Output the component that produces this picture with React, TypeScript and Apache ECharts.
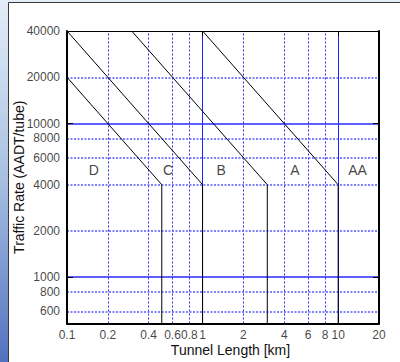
import React, { useEffect, useRef } from "react";
import * as echarts from "echarts";

// Axis ranges
const xMin = 0.1;
const xMax = 20;
const yMin = 500;
const yMax = 40000;

// Tick labels
const xTickValues = [0.1, 0.2, 0.4, 0.6, 0.8, 1, 2, 4, 6, 8, 10, 20];
const yTickValues = [600, 800, 1000, 2000, 4000, 6000, 8000, 10000, 20000, 40000];

// Grid lines
const xMinorGrid = [0.2, 0.4, 0.6, 0.8, 2, 4, 6, 8];
const xMajorGrid = [1, 10];
const yMinorGrid = [600, 800, 2000, 4000, 6000, 8000, 20000];
const yMajorGrid = [1000, 10000];

// Class boundary lines [tunnel length km, traffic AADT/tube]
const boundaryDC = [[0.1, 20000], [0.5, 4000], [0.5, 500]];
const boundaryCB = [[0.1, 40000], [1, 4000], [1, 500]];
const boundaryBA = [[0.3, 40000], [3, 4000], [3, 500]];
const boundaryAAA = [[1, 40000], [10, 4000], [10, 500]];

// Zone labels
const zoneNames = ["D", "C", "B", "A", "AA"];
const zoneX = [0.158, 0.556, 1.37, 4.8, 13.9];
const zoneY = 5000;

const FONT = "'Liberation Sans', Arial, sans-serif";

export default function App() {
  const ref = useRef<HTMLDivElement>(null);

  useEffect(() => {
    if (!ref.current) return;
    const chart = echarts.init(ref.current, null, { renderer: "svg" });

    const boundarySeries = [boundaryDC, boundaryCB, boundaryBA, boundaryAAA].map((d, i) => ({
      type: "line",
      name: "boundary" + i,
      xAxisIndex: 0,
      yAxisIndex: 0,
      data: d,
      symbol: "none",
      showSymbol: false,
      z: 3,
      lineStyle: { color: "#000", width: 1 },
      silent: true,
    }));

    const dotted = { color: "#2b2bff", width: 1, type: [2, 2] };
    const dottedH = { color: "#5a5aff", width: 1.5, type: [2, 1.5] };
    const solid = { color: "#2222ff", width: 1, type: "solid" };
    const solidH = { color: "#2a2aff", width: 1.5, type: "solid" };

    const gridSeries = {
      type: "line",
      name: "grid",
      xAxisIndex: 0,
      yAxisIndex: 0,
      data: [],
      silent: true,
      markLine: {
        z: 1,
        silent: true,
        symbol: ["none", "none"],
        label: { show: false },
        emphasis: { disabled: true },
        animation: false,
        data: [
          ...xMinorGrid.map((v) => ({ xAxis: v, lineStyle: dotted })),
          ...yMinorGrid.map((v) => ({ yAxis: v, lineStyle: dottedH })),
          ...xMajorGrid.map((v) => ({ xAxis: v, lineStyle: solid })),
          ...yMajorGrid.map((v) => ({ yAxis: v, lineStyle: solidH })),
        ],
      },
    };

    const xLabelSeries = {
      type: "scatter",
      name: "xlabels",
      xAxisIndex: 0,
      yAxisIndex: 0,
      clip: false,
      silent: true,
      symbolSize: 0,
      data: xTickValues.map((v) => [v, yMin]),
      label: {
        show: true,
        position: "bottom",
        distance: 6,
        color: "#111",
        fontSize: 12,
        lineHeight: 11,
        fontFamily: FONT,
        formatter: (p: any) => String(p.value[0]),
      },
    };

    const yLabelSeries = {
      type: "scatter",
      name: "ylabels",
      xAxisIndex: 0,
      yAxisIndex: 0,
      clip: false,
      silent: true,
      symbolSize: 0,
      data: yTickValues.map((v) => [xMin, v]),
      label: {
        show: true,
        position: "left",
        distance: 7,
        color: "#111",
        fontSize: 12,
        lineHeight: 12,
        fontFamily: FONT,
        formatter: (p: any) => String(p.value[1]),
      },
    };

    const zoneSeries = {
      type: "scatter",
      name: "zones",
      xAxisIndex: 0,
      yAxisIndex: 0,
      silent: true,
      symbolSize: 0,
      z: 4,
      data: zoneNames.map((n, i) => ({ name: n, value: [zoneX[i], zoneY] })),
      label: {
        show: true,
        position: "inside",
        color: "#111",
        fontSize: 14,
        fontFamily: FONT,
        formatter: (p: any) => p.name,
      },
    };

    const baseAxis = (extra: any) => ({
      type: "log",
      logBase: 10,
      z: 10,
      axisLabel: { show: false },
      splitLine: { show: false },
      minorTick: { show: false },
      axisTick: { show: true, inside: true, length: 5, lineStyle: { color: "#000", width: 1 } },
      ...extra,
    });

    const option: any = {
      animation: false,
      backgroundColor: {
        type: "linear",
        x: 0,
        y: 0,
        x2: 0,
        y2: 1,
        colorStops: [
          { offset: 0, color: "#e3edf8" },
          { offset: 0.5, color: "#a7bfe2" },
          { offset: 1, color: "#5271bf" },
        ],
      },
      graphic: [
        {
          type: "rect",
          z: -10,
          silent: true,
          shape: { x: 8.5, y: 2.5, width: 400, height: 400 },
          style: { fill: "#ffffff", stroke: "#3a3a3a", lineWidth: 1 },
        },
      ],
      grid: { left: 67, top: 31, right: 21, bottom: 36, containLabel: false },
      xAxis: [
        baseAxis({
          min: xMin,
          max: xMax,
          position: "bottom",
          axisLine: { show: true, onZero: false, lineStyle: { color: "#000", width: 2 } },
          name: "Tunnel Length [km]",
          nameLocation: "middle",
          nameGap: 20,
          nameTextStyle: {
            color: "#111",
            fontSize: 14,
            lineHeight: 13,
            fontFamily: FONT,
            padding: [0, 0, 0, 15],
            verticalAlign: "top",
          },
        }),
        baseAxis({
          min: xMin,
          max: xMax,
          position: "top",
          axisLine: { show: true, onZero: false, lineStyle: { color: "#000", width: 1 } },
        }),
      ],
      yAxis: [
        baseAxis({
          min: yMin,
          max: yMax,
          position: "left",
          axisTick: { show: true, inside: true, length: 6, lineStyle: { color: "#000", width: 1 } },
          axisLine: { show: true, onZero: false, lineStyle: { color: "#000", width: 2 } },
          name: "Traffic Rate (AADT/tube)",
          nameLocation: "middle",
          nameGap: 41,
          nameTextStyle: { color: "#111", fontSize: 14, fontFamily: FONT },
        }),
        baseAxis({
          min: yMin,
          max: yMax,
          position: "right",
          axisTick: { show: true, inside: true, length: 6, lineStyle: { color: "#000", width: 1 } },
          axisLine: { show: true, onZero: false, lineStyle: { color: "#000", width: 2 } },
        }),
      ],
      series: [gridSeries, ...boundarySeries, xLabelSeries, yLabelSeries, zoneSeries],
    };

    chart.setOption(option);
    return () => {
      chart.dispose();
    };
  }, []);

  return (
    <div
      ref={ref}
      style={{ position: "absolute", left: 0, top: 0, width: 400, height: 362 }}
    />
  );
}
